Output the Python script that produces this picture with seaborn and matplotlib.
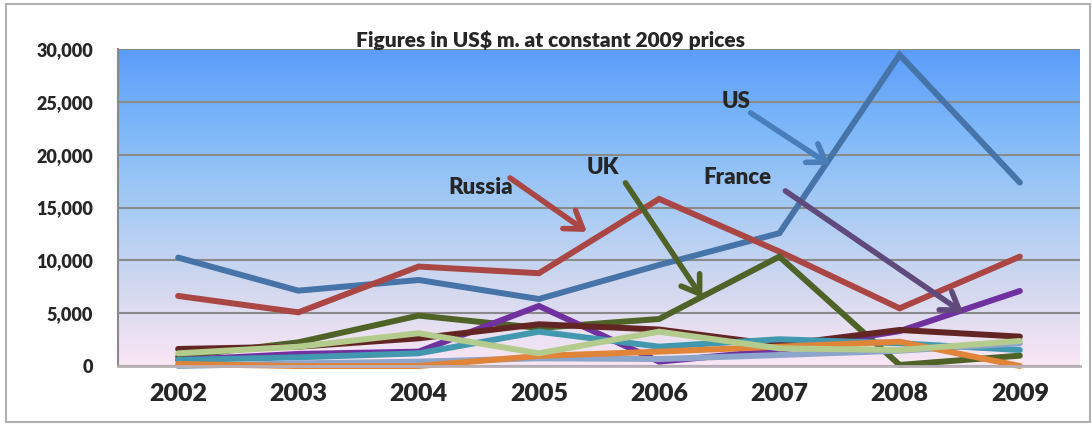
import numpy as np
import pandas as pd
import seaborn as sns
import matplotlib.pyplot as plt
from matplotlib.colors import LinearSegmentedColormap
from matplotlib.patches import Rectangle

years = ['2002', '2003', '2004', '2005', '2006', '2007', '2008', '2009']

us = [10260, 7130, 8140, 6340, 9560, 12570, 29450, 17360]
russia = [6630, 5080, 9410, 8780, 15810, 10830, 5460, 10350]
uk = [880, 2240, 4770, 3600, 4450, 10350, 100, 980]
france = [570, 1140, 1360, 5680, 410, 1500, 3300, 7100]
series5 = [1610, 1830, 2620, 3950, 3450, 1990, 3410, 2780]
series6 = [570, 820, 1200, 3250, 1830, 2530, 2150, 1515]
series7 = [0, 250, 410, 730, 660, 1040, 1450, 2150]
series8 = [190, 0, 0, 950, 1360, 1830, 2300, 0]
series9 = [1200, 1830, 3100, 1200, 3250, 1670, 1515, 2370]

names = ['US', 'Russia', 'UK', 'France', 'Series 5', 'Series 6', 'Series 7', 'Series 8', 'Series 9']
values = [us, russia, uk, france, series5, series6, series7, series8, series9]
colors = ['#4673A8', '#AA4643', '#4F6228', '#7030A0', '#632523', '#4198AF',
          '#8EA5CB', '#E0843A', '#B3CB8C']

rows = []
for name, vals in zip(names, values):
    for year, v in zip(years, vals):
        rows.append({'country': name, 'year': year, 'value': v})
df = pd.DataFrame(rows)

sns.set_style('white')
plt.rcParams['font.family'] = ['Lato', 'DejaVu Sans']

fig = plt.figure(figsize=(10.92, 4.26), dpi=100)
ax = fig.add_axes([118 / 1092, 1 - 366 / 426, (1080 - 118) / 1092, (366 - 49) / 426])

# gradient background of the plot area
grad = LinearSegmentedColormap.from_list(
    'bg', ['#5B9CFA', '#7DB8F8', '#A7CBF4', '#D2D8EF', '#F9E6F4'])
ax.imshow(np.linspace(0, 1, 256).reshape(-1, 1), cmap=grad, aspect='auto',
          extent=[0, 1, 0, 1], transform=ax.transAxes, zorder=0)

sns.lineplot(data=df, x='year', y='value', hue='country', hue_order=names,
             palette=colors, linewidth=4.3, legend=False, sort=False, ax=ax)
for line in ax.lines:
    line.set_clip_on(False)
    line.set_solid_capstyle('round')
    line.set_solid_joinstyle('miter')

ax.set_xlim(-0.5, 7.5)
ax.set_ylim(0, 30000)
ax.set_yticks(range(0, 30001, 5000))
ax.set_yticklabels([f'{v:,}' for v in range(0, 30001, 5000)])
ax.yaxis.grid(True, color='#8a8a8a', linewidth=1.5)
ax.set_axisbelow(True)
ax.set_xlabel(None)
ax.set_ylabel(None)
ax.tick_params(axis='y', length=0, pad=18, labelsize=13)
ax.tick_params(axis='x', length=0, pad=12, labelsize=18)
for lab in ax.get_xticklabels() + ax.get_yticklabels():
    lab.set_fontweight('heavy')
for side in ['top', 'right']:
    ax.spines[side].set_visible(False)
ax.spines['left'].set_color('#8a8a8a')
ax.spines['left'].set_linewidth(1.5)
ax.spines['bottom'].set_color('#b8b0b8')
ax.spines['bottom'].set_linewidth(2)

# labels with arrows
notes = [
    ('US', (4.64, 25000), (4.76, 23960), (5.42, 19030), '#4A7EBB'),
    ('France', (4.65, 17800), (5.05, 16570), (6.53, 5020), '#604A7B'),
    ('UK', (3.53, 18750), (3.72, 17330), (4.36, 6440), '#4F6228'),
    ('Russia', (2.52, 16860), (2.76, 17800), (3.40, 12690), '#AA4643'),
]
for text, tpos, start, end, col in notes:
    ax.text(tpos[0], tpos[1], text, ha='center', va='center',
            fontsize=16, fontweight='heavy', zorder=5)
    ax.annotate('', xy=end, xytext=start,
                arrowprops=dict(arrowstyle='->,head_length=0.6,head_width=0.4',
                                color=col, lw=4, mutation_scale=20,
                                shrinkA=0, shrinkB=0),
                zorder=5)

fig.text(551 / 1092, 1 - 40 / 426, 'Figures in US$ m. at constant 2009 prices',
         ha='center', va='center', fontsize=15, fontweight='heavy')

fig.patches.append(Rectangle((6 / 1092, 4 / 426), 1 - 8 / 1092, 1 - 8 / 426,
                             transform=fig.transFigure, fill=False,
                             edgecolor='#b0b0b0', linewidth=1.5))

fig.savefig('out.png', dpi=100)
